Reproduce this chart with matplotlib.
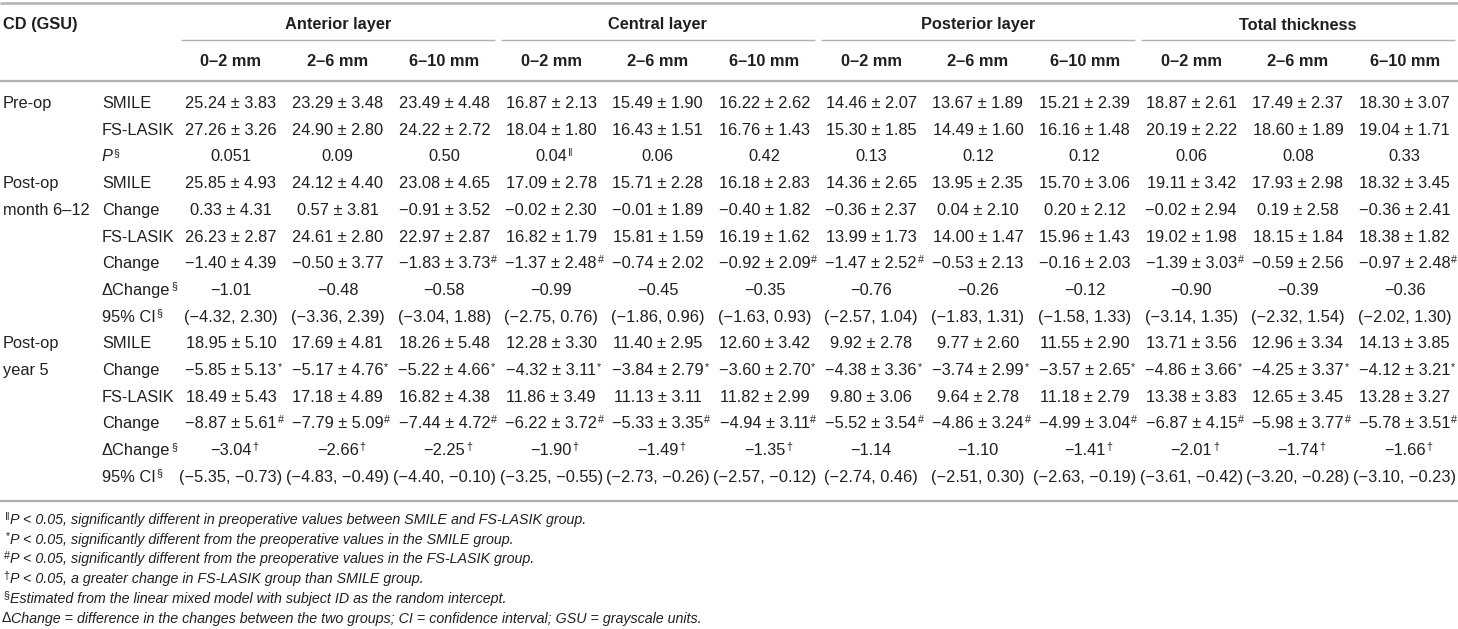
import matplotlib
matplotlib.use("Agg")
import matplotlib.pyplot as plt

plt.rcParams['font.family'] = ['Liberation Sans', 'DejaVu Sans']

# ---- table content ----
groups = ["Anterior layer", "Central layer", "Posterior layer", "Total thickness"]
zones = ["0–2 mm", "2–6 mm", "6–10 mm"]

period_labels = [["Pre-op"], ["Post-op", "month 6–12"], ["Post-op", "year 5"]]
period_start = [0, 3, 9]

row_labels = ["SMILE", "FS-LASIK", "P§",
              "SMILE", "Change", "FS-LASIK", "Change", "ΔChange§", "95% CI§",
              "SMILE", "Change", "FS-LASIK", "Change", "ΔChange§", "95% CI§"]

pre_smile = ["25.24 ± 3.83", "23.29 ± 3.48", "23.49 ± 4.48", "16.87 ± 2.13", "15.49 ± 1.90", "16.22 ± 2.62",
             "14.46 ± 2.07", "13.67 ± 1.89", "15.21 ± 2.39", "18.87 ± 2.61", "17.49 ± 2.37", "18.30 ± 3.07"]
pre_lasik = ["27.26 ± 3.26", "24.90 ± 2.80", "24.22 ± 2.72", "18.04 ± 1.80", "16.43 ± 1.51", "16.76 ± 1.43",
             "15.30 ± 1.85", "14.49 ± 1.60", "16.16 ± 1.48", "20.19 ± 2.22", "18.60 ± 1.89", "19.04 ± 1.71"]
pre_p = ["0.051", "0.09", "0.50", "0.04‖", "0.06", "0.42", "0.13", "0.12", "0.12", "0.06", "0.08", "0.33"]

m12_smile = ["25.85 ± 4.93", "24.12 ± 4.40", "23.08 ± 4.65", "17.09 ± 2.78", "15.71 ± 2.28", "16.18 ± 2.83",
             "14.36 ± 2.65", "13.95 ± 2.35", "15.70 ± 3.06", "19.11 ± 3.42", "17.93 ± 2.98", "18.32 ± 3.45"]
m12_smile_chg = ["0.33 ± 4.31", "0.57 ± 3.81", "−0.91 ± 3.52", "−0.02 ± 2.30", "−0.01 ± 1.89", "−0.40 ± 1.82",
                 "−0.36 ± 2.37", "0.04 ± 2.10", "0.20 ± 2.12", "−0.02 ± 2.94", "0.19 ± 2.58", "−0.36 ± 2.41"]
m12_lasik = ["26.23 ± 2.87", "24.61 ± 2.80", "22.97 ± 2.87", "16.82 ± 1.79", "15.81 ± 1.59", "16.19 ± 1.62",
             "13.99 ± 1.73", "14.00 ± 1.47", "15.96 ± 1.43", "19.02 ± 1.98", "18.15 ± 1.84", "18.38 ± 1.82"]
m12_lasik_chg = ["−1.40 ± 4.39", "−0.50 ± 3.77", "−1.83 ± 3.73#", "−1.37 ± 2.48#", "−0.74 ± 2.02", "−0.92 ± 2.09#",
                 "−1.47 ± 2.52#", "−0.53 ± 2.13", "−0.16 ± 2.03", "−1.39 ± 3.03#", "−0.59 ± 2.56", "−0.97 ± 2.48#"]
m12_dchg = ["−1.01", "−0.48", "−0.58", "−0.99", "−0.45", "−0.35", "−0.76", "−0.26", "−0.12", "−0.90", "−0.39", "−0.36"]
m12_ci = ["(−4.32, 2.30)", "(−3.36, 2.39)", "(−3.04, 1.88)", "(−2.75, 0.76)", "(−1.86, 0.96)", "(−1.63, 0.93)",
          "(−2.57, 1.04)", "(−1.83, 1.31)", "(−1.58, 1.33)", "(−3.14, 1.35)", "(−2.32, 1.54)", "(−2.02, 1.30)"]

y5_smile = ["18.95 ± 5.10", "17.69 ± 4.81", "18.26 ± 5.48", "12.28 ± 3.30", "11.40 ± 2.95", "12.60 ± 3.42",
            "9.92 ± 2.78", "9.77 ± 2.60", "11.55 ± 2.90", "13.71 ± 3.56", "12.96 ± 3.34", "14.13 ± 3.85"]
y5_smile_chg = ["−5.85 ± 5.13*", "−5.17 ± 4.76*", "−5.22 ± 4.66*", "−4.32 ± 3.11*", "−3.84 ± 2.79*", "−3.60 ± 2.70*",
                "−4.38 ± 3.36*", "−3.74 ± 2.99*", "−3.57 ± 2.65*", "−4.86 ± 3.66*", "−4.25 ± 3.37*", "−4.12 ± 3.21*"]
y5_lasik = ["18.49 ± 5.43", "17.18 ± 4.89", "16.82 ± 4.38", "11.86 ± 3.49", "11.13 ± 3.11", "11.82 ± 2.99",
            "9.80 ± 3.06", "9.64 ± 2.78", "11.18 ± 2.79", "13.38 ± 3.83", "12.65 ± 3.45", "13.28 ± 3.27"]
y5_lasik_chg = ["−8.87 ± 5.61#", "−7.79 ± 5.09#", "−7.44 ± 4.72#", "−6.22 ± 3.72#", "−5.33 ± 3.35#", "−4.94 ± 3.11#",
                "−5.52 ± 3.54#", "−4.86 ± 3.24#", "−4.99 ± 3.04#", "−6.87 ± 4.15#", "−5.98 ± 3.77#", "−5.78 ± 3.51#"]
y5_dchg = ["−3.04†", "−2.66†", "−2.25†", "−1.90†", "−1.49†", "−1.35†", "−1.14", "−1.10", "−1.41†", "−2.01†", "−1.74†", "−1.66†"]
y5_ci = ["(−5.35, −0.73)", "(−4.83, −0.49)", "(−4.40, −0.10)", "(−3.25, −0.55)", "(−2.73, −0.26)", "(−2.57, −0.12)",
         "(−2.74, 0.46)", "(−2.51, 0.30)", "(−2.63, −0.19)", "(−3.61, −0.42)", "(−3.20, −0.28)", "(−3.10, −0.23)"]

body = [pre_smile, pre_lasik, pre_p,
        m12_smile, m12_smile_chg, m12_lasik, m12_lasik_chg, m12_dchg, m12_ci,
        y5_smile, y5_smile_chg, y5_lasik, y5_lasik_chg, y5_dchg, y5_ci]

footnotes = [
    ("‖", "P < 0.05, significantly different in preoperative values between SMILE and FS-LASIK group."),
    ("*", "P < 0.05, significantly different from the preoperative values in the SMILE group."),
    ("#", "P < 0.05, significantly different from the preoperative values in the FS-LASIK group."),
    ("†", "P < 0.05, a greater change in FS-LASIK group than SMILE group."),
    ("§", "Estimated from the linear mixed model with subject ID as the random intercept."),
    ("", "ΔChange = difference in the changes between the two groups; CI = confidence interval; GSU = grayscale units."),
]

# ---- layout ----
W, H = 1458, 629
INK = "#231f20"
RULE = "#aeb0b3"
FS = 11.8
FN = 10.3
col_x = [231 + 106.7 * k for k in range(12)]
row_y = [103.5 + 26.7 * i for i in range(len(body))]
SUPS = "*#†§‖"

fig = plt.figure(figsize=(W / 100, H / 100), dpi=100)
ax = fig.add_axes([0, 0, 1, 1])
ax.set_xlim(0, W)
ax.set_ylim(H, 0)
ax.axis("off")


def split_sup(s):
    i = len(s)
    while i > 0 and s[i - 1] in SUPS:
        i -= 1
    return s[:i], s[i:]


def put(x, y, s, ha="center", weight="normal", style="normal", size=FS):
    main, sup = split_sup(s)
    t = ax.text(x, y, main, ha=ha, va="center", fontsize=size,
                fontweight=weight, fontstyle=style, color=INK)
    if sup:
        ax.annotate(sup, xy=(1, 1.0), xycoords=t, xytext=(0.6, 1.0),
                    textcoords="offset points", ha="left", va="top",
                    fontsize=size * 0.66, color=INK)
    return t


# rules
ax.plot([0, W], [3, 3], color=RULE, lw=1.8, solid_capstyle="butt")
ax.plot([0, W], [81, 81], color=RULE, lw=1.6, solid_capstyle="butt")
ax.plot([0, W], [501, 501], color=RULE, lw=1.6, solid_capstyle="butt")
for g in range(len(groups)):
    x0 = 178 + 320 * g
    ax.plot([x0 + 3, x0 + 317], [40, 40], color=RULE, lw=1.0, solid_capstyle="butt")

# header
put(3, 25, "CD (GSU)", ha="left", weight="bold")
for g, name in enumerate(groups):
    put(col_x[3 * g + 1], 25, name, weight="bold")
    for z, zn in enumerate(zones):
        put(col_x[3 * g + z], 61, zn, weight="bold")

# row labels
for lines, start in zip(period_labels, period_start):
    for k, ln in enumerate(lines):
        put(3, row_y[start + k], ln, ha="left")
for i, lab in enumerate(row_labels):
    put(102, row_y[i], lab, ha="left", style="italic" if lab.startswith("P") else "normal")

# body cells
for i, vals in enumerate(body):
    for k, v in enumerate(vals):
        put(col_x[k], row_y[i], v)

# footnotes
for i, (mark, txt) in enumerate(footnotes):
    y = 520 + 19.7 * i
    if mark:
        ax.text(9.5, y - 3.5, mark, ha="right", va="center", fontsize=FN * 0.75, color=INK)
        ax.text(10, y, txt, ha="left", va="center", fontsize=FN, fontstyle="italic", color=INK)
    else:
        t = ax.text(2, y, "Δ", ha="left", va="center", fontsize=FN, color=INK)
        ax.annotate(txt[1:], xy=(1, 0.5), xycoords=t, ha="left", va="center",
                    fontsize=FN, fontstyle="italic", color=INK)

fig.savefig("out.png", dpi=100)
